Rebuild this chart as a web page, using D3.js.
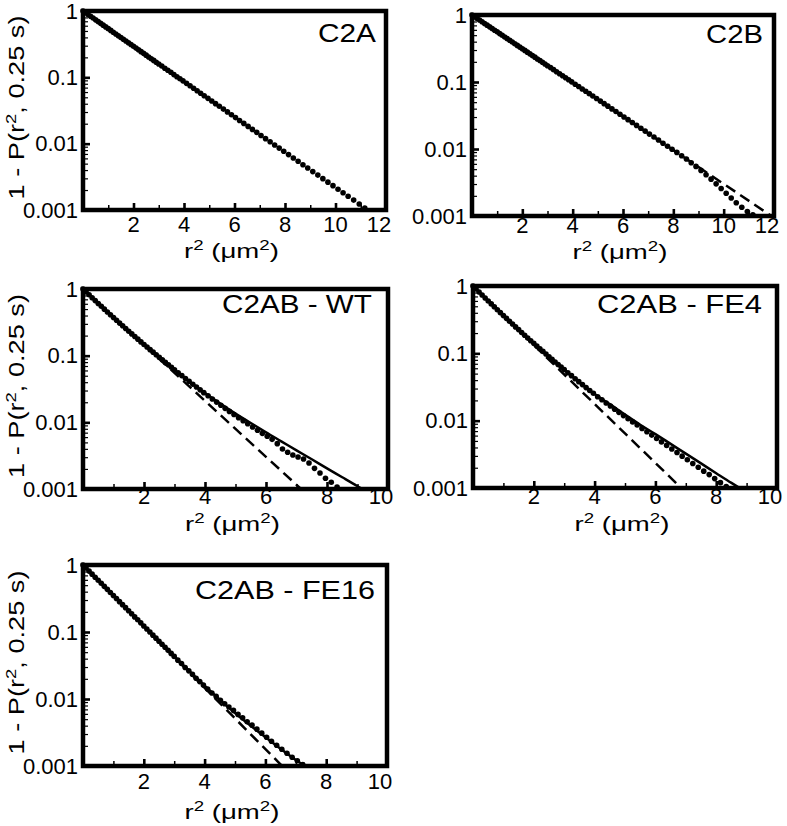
<!DOCTYPE html>
<html><head><meta charset="utf-8">
<script src="https://cdn.jsdelivr.net/npm/d3@7"></script>
<style>
html,body{margin:0;padding:0;background:#fff;}
svg{display:block;}
text{font-family:"Liberation Sans",Arial,Helvetica,sans-serif;fill:#000;font-weight:normal;}
</style>
</head><body>
<svg id="chart" width="787" height="826"></svg>
<script>
// ---------- data ----------
const r2Samples = [0,0.1,0.2,0.3,0.4,0.5,0.6,0.7,0.8,0.9,1.0,1.1,1.2,1.3,1.4,1.5,1.6,1.7,1.8,1.9,2.0,2.1,2.2,2.3,2.4,2.5,2.6,2.7,2.8,2.9,3.0,
  3.12,3.24,3.36,3.48,3.6,3.72,3.84,3.96,4.1,4.24,4.38,4.52,4.66,4.8,4.95,5.1,5.25,5.4,5.56,5.72,5.88,6.04,6.2,6.37,6.54,6.71,6.88,7.05,
  7.23,7.41,7.59,7.77,7.95,8.14,8.33,8.52,8.71,8.9,9.1,9.3,9.5,9.7,9.9,10.1,10.3,10.5,10.72,10.94,11.16];

const panelNames = ["C2A","C2B","C2AB - WT","C2AB - FE4","C2AB - FE16"];
const xTicks12 = [2,4,6,8,10,12];
const xTicks10 = [2,4,6,8,10];
const yTickValues = [1,0.1,0.01,0.001];
const yTickLabels = ["1","0.1","0.01","0.001"];

const c2aP = [1,0.941,0.885,0.832,0.783,0.736,0.692,0.651,0.612,0.576,0.542,0.510,0.479,0.451,0.424,0.399,0.375,0.353,0.332,0.312,0.294,0.276,0.260,0.244,0.230,0.216,0.203,0.191,0.180,0.169,0.159,
  0.148,0.137,0.128,0.119,0.110,0.102,0.0952,0.0885,0.0811,0.0745,0.0684,0.0628,0.0576,0.0529,0.0482,0.0440,0.0401,0.0366,0.0332,0.0301,0.0273,0.0247,0.0224,0.0202,0.0182,0.0164,0.0148,0.0133,
  0.0119,0.0107,0.00957,0.00857,0.00768,0.00684,0.00608,0.00542,0.00482,0.00430,0.00379,0.00336,0.00297,0.00263,0.00233,0.00206,0.00182,0.00161,0.00141,0.00123,0.00107];

const c2bP = [1,0.944,0.890,0.840,0.793,0.748,0.706,0.666,0.629,0.593,0.560,0.528,0.498,0.470,0.444,0.419,0.395,0.373,0.352,0.332,0.313,0.296,0.279,0.263,0.249,0.235,0.221,0.209,0.197,0.186,0.175,
  0.164,0.153,0.142,0.133,0.124,0.116,0.108,0.1005,0.0927,0.0855,0.0787,0.0726,0.0670,0.0617,0.0566,0.0519,0.0475,0.0436,0.0397,0.0362,0.0330,0.0301,0.0274,0.0248,0.0225,0.0204,0.0185,0.0167,
  0.0151,0.0136,0.0122,0.0110,0.00993,0.00889,0.00794,0.00708,0.00624,0.00550,0.00479,0.00412,0.00355,0.00302,0.00257,0.00219,0.00186,0.00158,0.00135,0.00117,0.00104];
const c2bDashR2 = [0,11.9];
const c2bDashP = [1,0.001];

const wtP = [1,0.904,0.818,0.740,0.670,0.607,0.550,0.499,0.452,0.411,0.373,0.339,0.308,0.281,0.256,0.233,0.212,0.194,0.177,0.161,0.147,0.135,0.123,0.113,0.103,0.0944,0.0865,0.0793,0.0728,0.0668,0.0614,
  0.0555,0.0502,0.0454,0.0411,0.0373,0.0338,0.0307,0.0279,0.0250,0.0224,0.0201,0.0180,0.0162,0.0146,0.0131,0.0117,0.0106,0.00955,0.00851,0.00759,0.00684,0.00617,0.00556,0.00479,0.00398,0.00355,0.00324,0.00302,
  0.00282,0.00245,0.00204,0.00174,0.00145,0.00126,0.00107];
const wtSolidR2 = [0,0.5,1,1.5,2,2.5,3,3.5,4,4.5,5,5.5,6,6.5,7,7.5,8,8.5,9,9.15];
const wtSolidP = [1,0.607,0.373,0.233,0.147,0.0944,0.0614,0.0407,0.0275,0.0191,0.0135,0.00977,0.00708,0.00519,0.00380,0.00279,0.00204,0.00150,0.00110,0.00100];
const wtDashR2 = [0,7.15];
const wtDashP = [1,0.001];

const fe4P = [1,0.902,0.814,0.735,0.664,0.600,0.542,0.491,0.444,0.402,0.365,0.331,0.300,0.272,0.247,0.225,0.204,0.186,0.169,0.154,0.141,0.128,0.117,0.107,0.0975,0.0891,0.0815,0.0745,0.0683,0.0625,0.0573,
  0.0516,0.0466,0.0420,0.0380,0.0343,0.0310,0.0281,0.0255,0.0227,0.0204,0.0183,0.0165,0.0148,0.0133,0.0119,0.0107,0.00959,0.00861,0.00767,0.00684,0.00610,0.00543,0.00484,0.00429,0.00379,0.00336,0.00297,0.00263,
  0.00231,0.00203,0.00178,0.00158,0.00138,0.00120,0.00105];
const fe4SolidR2 = [0,0.5,1,1.5,2,2.5,3,3.5,4,4.5,5,5.5,6,6.5,7,7.5,8,8.5,8.77];
const fe4SolidP = [1,0.600,0.365,0.225,0.141,0.0891,0.0573,0.0373,0.0248,0.0176,0.0123,0.00871,0.00631,0.00452,0.00324,0.00232,0.00166,0.00119,0.001];
const fe4DashR2 = [0,6.85];
const fe4DashP = [1,0.001];

const fe16P = [1,0.901,0.811,0.730,0.658,0.592,0.533,0.480,0.433,0.389,0.351,0.316,0.284,0.256,0.231,0.208,0.187,0.168,0.152,0.137,0.123,0.111,0.0998,0.0898,0.0809,0.0729,0.0656,0.0591,0.0532,0.0479,0.0432,
  0.0380,0.0339,0.0295,0.0263,0.0234,0.0204,0.0182,0.0162,0.0141,0.0123,0.0110,0.00955,0.00851,0.00759,0.00676,0.00589,0.00525,0.00457,0.00407,0.00355,0.00309,0.00269,0.00234,0.00204,0.00178,0.00155,0.00135,0.00120,
  0.00105];
const fe16SolidR2 = [0,1,2,3,4,5,6,7,7.3];
const fe16SolidP = [1,0.351,0.123,0.0437,0.0158,0.00617,0.00269,0.00123,0.001];
const fe16DashR2 = [0,6.55];
const fe16DashP = [1,0.001];

// ---------- layout ----------
const zip = (xs, ys) => ys.map((v, i) => [xs[i], v]);
const panels = [
  {name: panelNames[0], l:83, r:386, t:11, b:210, xMax:12, ticks:xTicks12, dots:zip(r2Samples,c2aP), dash:null, solid:null,
   yTitle:true, labelW:58, labelRight:376, labelBase:42, tickBase:232, titleBase:258},
  {name: panelNames[1], l:472, r:774, t:15, b:216, xMax:12, ticks:xTicks12, dots:zip(r2Samples,c2bP), dash:zip(c2bDashR2,c2bDashP), solid:null,
   yTitle:false, labelW:57, labelRight:763, labelBase:43, tickBase:233, titleBase:259},
  {name: panelNames[2], l:83, r:388, t:289, b:489, xMax:10, ticks:xTicks10, dots:zip(r2Samples,wtP), dash:zip(wtDashR2,wtDashP), solid:zip(wtSolidR2,wtSolidP),
   yTitle:true, labelW:150, labelRight:372, labelBase:313, tickBase:504, titleBase:531},
  {name: panelNames[3], l:473, r:777, t:286, b:488, xMax:10, ticks:xTicks10, dots:zip(r2Samples,fe4P), dash:zip(fe4DashR2,fe4DashP), solid:zip(fe4SolidR2,fe4SolidP),
   yTitle:false, labelW:165, labelRight:762, labelBase:313, tickBase:504, titleBase:531},
  {name: panelNames[4], l:83, r:387, t:565, b:766, xMax:10, ticks:xTicks10, dots:zip(r2Samples,fe16P), dash:zip(fe16DashR2,fe16DashP), solid:zip(fe16SolidR2,fe16SolidP),
   yTitle:true, labelW:180, labelRight:375, labelBase:599, tickBase:789, titleBase:819}
];

const svg = d3.select("#chart");
const defs = svg.append("defs");

function fitText(parent, tx, ty, targetW, fontSize, parts, rot) {
  const grp = parent.append("g");
  const t = grp.append("text").attr("font-size", fontSize).attr("text-anchor", "middle").attr("x", 0).attr("y", 0);
  const shift = fontSize * 0.38;
  let prevSup = false;
  parts.forEach(([s, sup]) => {
    const ts = t.append("tspan").text(s);
    if (sup) ts.attr("font-size", fontSize * 0.68).attr("dy", -shift);
    else if (prevSup) ts.attr("dy", shift);
    prevSup = sup;
  });
  const w = t.node().getComputedTextLength();
  const s = targetW / w;
  grp.attr("transform", `translate(${tx},${ty}) rotate(${rot || 0}) scale(${s},1)`);
}

panels.forEach((p, i) => {
  const x = d3.scaleLinear().domain([0, p.xMax]).range([p.l, p.r]);
  const y = d3.scaleLog().domain([0.001, 1]).range([p.b, p.t]);
  const g = svg.append("g");

  defs.append("clipPath").attr("id", "clip" + i)
    .append("rect").attr("x", p.l).attr("y", p.t).attr("width", p.r - p.l).attr("height", p.b - p.t);

  // inward ticks
  const xMinor = d3.range(1, p.xMax, 2);
  const axB = g.append("g").attr("transform", `translate(0,${p.b})`);
  axB.append("g").call(d3.axisBottom(x).tickValues(xMinor).tickSize(-5).tickFormat(""))
    .call(s => { s.select(".domain").remove(); s.selectAll("line").attr("stroke", "#000").attr("stroke-width", 1.5); });
  axB.append("g").call(d3.axisBottom(x).tickValues(p.ticks).tickSize(-7).tickFormat(""))
    .call(s => { s.select(".domain").remove(); s.selectAll("line").attr("stroke", "#000").attr("stroke-width", 2.6); });

  const yMinor = [];
  [0.001, 0.01, 0.1].forEach(d => { for (let k = 2; k <= 9; k++) yMinor.push(k * d); });
  const axL = g.append("g").attr("transform", `translate(${p.l},0)`);
  axL.append("g").call(d3.axisLeft(y).tickValues(yMinor).tickSize(-5).tickFormat(""))
    .call(s => { s.select(".domain").remove(); s.selectAll("line").attr("stroke", "#000").attr("stroke-width", 1.2); });
  axL.append("g").call(d3.axisLeft(y).tickValues(yTickValues).tickSize(-7).tickFormat(""))
    .call(s => { s.select(".domain").remove(); s.selectAll("line").attr("stroke", "#000").attr("stroke-width", 2.6); });

  // frame
  g.append("rect").attr("x", p.l).attr("y", p.t).attr("width", p.r - p.l).attr("height", p.b - p.t)
    .attr("fill", "none").attr("stroke", "#000").attr("stroke-width", 4.5);

  const line = d3.line().x(d => x(d[0])).y(d => y(d[1]));
  const lg = g.append("g").attr("clip-path", `url(#clip${i})`);
  if (p.dash) lg.append("path").datum(p.dash).attr("d", line).attr("fill", "none").attr("stroke", "#000")
    .attr("stroke-width", 2.5).attr("stroke-dasharray", "11,6");
  if (p.solid) lg.append("path").datum(p.solid).attr("d", d3.line().x(d => x(d[0])).y(d => y(d[1])).curve(d3.curveMonotoneX))
    .attr("fill", "none").attr("stroke", "#000").attr("stroke-width", 2.5);

  g.append("g").selectAll("circle").data(p.dots).join("circle")
    .attr("cx", d => x(d[0])).attr("cy", d => y(d[1])).attr("r", 2.8).attr("fill", "#000");

  // y tick labels
  g.append("g").selectAll("text").data(yTickValues).join("text")
    .attr("x", p.l - 5).attr("y", d => y(d) + 7.5).attr("text-anchor", "end").attr("font-size", 22)
    .text((d, k) => yTickLabels[k]);

  // x tick labels
  g.append("g").selectAll("text").data(p.ticks).join("text")
    .attr("x", (d, k) => x(d) - (k === p.ticks.length - 1 ? 7 : 0)).attr("y", p.tickBase)
    .attr("text-anchor", "middle").attr("font-size", 22).text(d => String(d));

  // panel label
  fitText(g, p.labelRight - p.labelW / 2, p.labelBase, p.labelW, 25, [[p.name, false]]);

  // x title
  fitText(g, (p.l + p.r) / 2 - 3, p.titleBase, 95, 21, [["r", false], ["2", true], [" (\u03BCm", false], ["2", true], [")", false]]);

  // y title
  if (p.yTitle) {
    fitText(g, 24, (p.t + p.b) / 2 - 3, 184, 22, [["1 - P(r", false], ["2", true], [", 0.25 s)", false]], -90);
  }
});
</script>
</body></html>
